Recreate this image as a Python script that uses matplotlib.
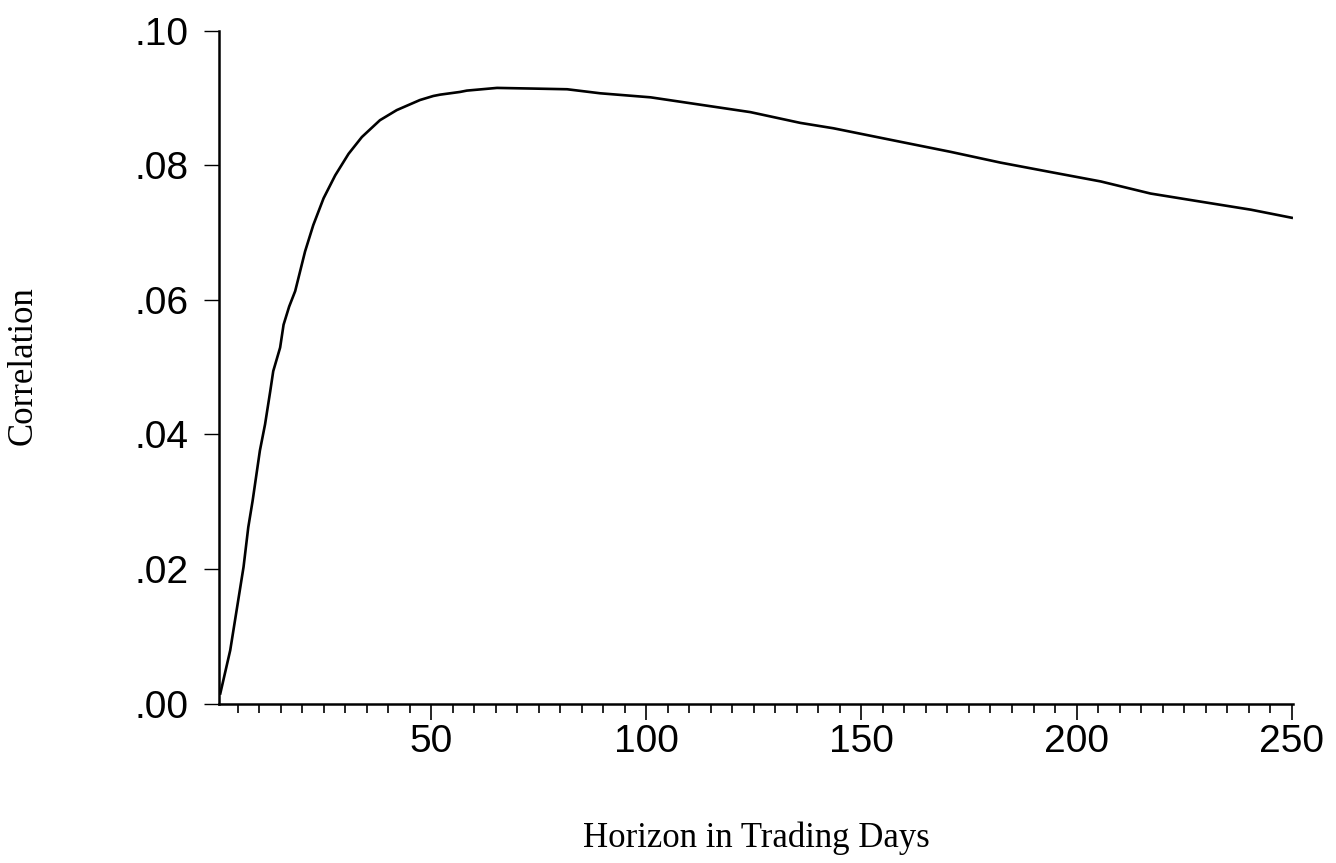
import matplotlib
matplotlib.use("Agg")
import matplotlib.pyplot as plt
from matplotlib.ticker import MultipleLocator, FixedLocator

# values
horizon = [1, 3.3, 4.8, 6.4, 7.5, 8.5, 10.2, 11.4, 12.6, 13.3, 14.9, 15.7, 17.0,
           18.4, 20.7, 22.6, 25.0, 27.7, 30.8, 33.9, 38.1, 42.0, 47.4, 50.5,
           52.1, 56.7, 58.3, 65.3, 73.8, 81.6, 89.3, 101.0, 112.6, 124.2,
           135.8, 143.5, 159.0, 170.7, 182.3, 193.9, 205.6, 217.2, 228.8,
           240.5, 250.0]
correlation = [0.0015, 0.0079, 0.0139, 0.0203, 0.0262, 0.0301, 0.0376, 0.0415,
               0.0464, 0.0494, 0.0529, 0.0563, 0.0590, 0.0613, 0.0672, 0.0711,
               0.0751, 0.0785, 0.0817, 0.0842, 0.0867, 0.0882, 0.0897, 0.0903,
               0.0905, 0.0909, 0.0911, 0.0915, 0.0914, 0.0913, 0.0907, 0.0901,
               0.0890, 0.0879, 0.0863, 0.0855, 0.0835, 0.0820, 0.0804, 0.0790,
               0.0776, 0.0758, 0.0746, 0.0734, 0.0722]

x_ticks = [50, 100, 150, 200, 250]
y_ticks = [0.00, 0.02, 0.04, 0.06, 0.08, 0.10]
y_labels = [".00", ".02", ".04", ".06", ".08", ".10"]

fig = plt.figure(figsize=(13.36, 8.63), dpi=100)
ax = fig.add_axes([0.1641, 0.1848, 0.9678 - 0.1641, 0.9644 - 0.1848])

ax.plot(horizon, correlation, color="black", lw=1.9, solid_joinstyle="round")

ax.set_xlim(0.75, 250.3)
ax.set_ylim(0, 0.10)

for s in ["top", "right"]:
    ax.spines[s].set_visible(False)
for s in ["left", "bottom"]:
    ax.spines[s].set_linewidth(1.8)

ax.xaxis.set_major_locator(FixedLocator(x_ticks))
ax.xaxis.set_minor_locator(MultipleLocator(5))
ax.set_yticks(y_ticks)
ax.set_yticklabels(y_labels)

for lab in ax.get_xticklabels() + ax.get_yticklabels():
    lab.set_fontfamily("Liberation Sans")
    lab.set_fontsize(28)

ax.tick_params(axis="x", which="major", length=11.5, width=1.2, direction="out", pad=3)
ax.tick_params(axis="x", which="minor", length=6.5, width=1.2, direction="out")
ax.tick_params(axis="y", which="major", length=11, width=1.0, direction="out", pad=11)

fig.text(0.5659, 1 - 838 / 863, "Horizon in Trading Days", family="Liberation Serif",
         fontsize=25, ha="center", va="center")
fig.text(23 / 1336, 1 - 366 / 863, "Correlation", family="Liberation Serif",
         fontsize=25, ha="center", va="center", rotation=90)

fig.savefig("out.png", dpi=100, facecolor="white")
